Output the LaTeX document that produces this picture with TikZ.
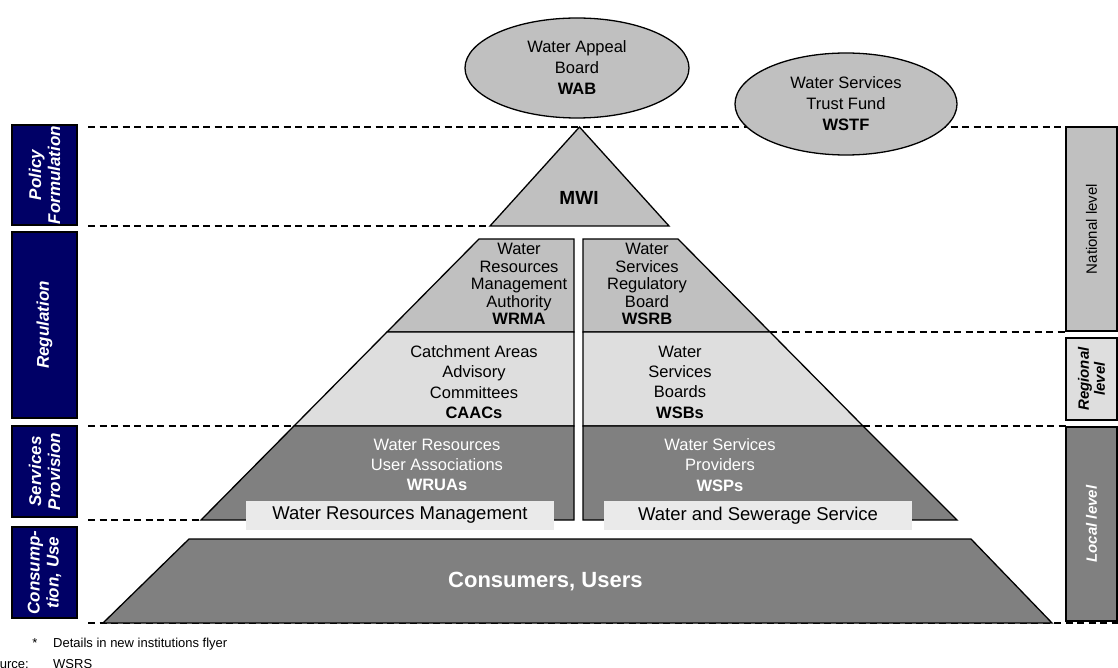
\documentclass[tikz,border=0pt]{standalone}
\usepackage{fontspec}
\setmainfont{Liberation Sans}
\usetikzlibrary{shapes.geometric}
\definecolor{navy}{RGB}{0,0,102}
\definecolor{gmid}{RGB}{192,192,192}
\definecolor{glight}{RGB}{222,222,222}
\definecolor{gdark}{RGB}{128,128,128}
\definecolor{glabel}{RGB}{234,234,234}
\begin{document}
\begin{tikzpicture}[x=1pt,y=-1pt,
  blk/.style={draw=black, line width=1.3pt, line join=miter},
  dline/.style={draw=black, line width=1.4pt, dash pattern=on 7pt off 4.5pt},
  body/.style={font=\fontsize{16.5}{20.3}\selectfont, align=center, inner sep=0pt},
  ell/.style={ellipse, draw=black, line width=1.3pt, fill=gmid, inner sep=0pt,
              font=\fontsize{16.5}{21}\selectfont, align=center},
  lbl/.style={fill=glabel, inner sep=0pt, minimum width=308pt, minimum height=29pt,
              font=\fontsize{18.5}{22}\selectfont},
  sidebox/.style={draw=black, line width=1.2pt, fill=navy, text=white, rotate=90,
              inner sep=0pt, minimum height=65pt, align=center,
              font=\bfseries\itshape\fontsize{17}{19}\selectfont},
  lvlbox/.style={draw=black, line width=1.2pt, rotate=90, inner sep=0pt,
              minimum height=51pt, align=center},
  foot/.style={font=\fontsize{13}{15}\selectfont, inner sep=0pt}
]
\useasboundingbox (0,0) rectangle (1118,668);

% dashed level lines
\draw[dline] (88,127) -- (1066,127);
\draw[dline] (88,226) -- (490,226);
\draw[dline] (770,332) -- (1066,332);
\draw[dline] (88,426) -- (294,426);
\draw[dline] (863,426) -- (1066,426);
\draw[dline] (88,520) -- (201,520);
\draw[dline] (88,623) -- (1118,623);

% ellipses
\node[ell, minimum width=224pt, minimum height=100pt] (wab) at (577,68)
  {Water Appeal\\Board\\\textbf{WAB}};
\node[ell, minimum width=222pt, minimum height=102pt] (wstf) at (846,104)
  {Water Services\\Trust Fund\\\textbf{WSTF}};

% MWI
\filldraw[blk, fill=gmid] (579.5,127) -- (669,226) -- (490,226) -- cycle;
\node[font=\bfseries\fontsize{19}{22}\selectfont, inner sep=0pt] (mwi) at (579,198) {MWI};

% left column
\filldraw[blk, fill=gmid]   (479,239) -- (574,239) -- (574,332) -- (387,332) -- cycle;
\filldraw[blk, fill=glight] (387,332) -- (574,332) -- (574,426) -- (294,426) -- cycle;
\filldraw[blk, fill=gdark]  (294,426) -- (574,426) -- (574,520) -- (201,520) -- cycle;
% right column
\filldraw[blk, fill=gmid]   (583,239) -- (678,239) -- (770,332) -- (583,332) -- cycle;
\filldraw[blk, fill=glight] (583,332) -- (770,332) -- (863,426) -- (583,426) -- cycle;
\filldraw[blk, fill=gdark]  (583,426) -- (863,426) -- (957,520) -- (583,520) -- cycle;
% consumers
\filldraw[blk, fill=gdark]  (189,539) -- (971,539) -- (1052,623) -- (103,623) -- cycle;

\node[body, font=\fontsize{16.5}{17.5}\selectfont] (wrma) at (519,284)
  {Water\\Resources\\Management\\Authority\\\textbf{WRMA}};
\node[body, font=\fontsize{16.5}{17.5}\selectfont] (wsrb) at (647,284)
  {Water\\Services\\Regulatory\\Board\\\textbf{WSRB}};
\node[body] (caac) at (474,382) {Catchment Areas\\Advisory\\Committees\\\textbf{CAACs}};
\node[body] (wsb) at (680,382) {Water\\Services\\Boards\\\textbf{WSBs}};
\node[body, text=white] (wrua) at (437,465) {Water Resources\\User Associations\\\textbf{WRUAs}};
\node[body, text=white] (wsp) at (720,465) {Water Services\\Providers\\\textbf{WSPs}};

\node[lbl] (wrm) at (400,515.5) {Water Resources Management};
\node[lbl] (wss) at (758,515.5) {Water and Sewerage Service};

\node[font=\bfseries\fontsize{22}{26}\selectfont, text=white, inner sep=0pt, anchor=west] (cons) at (448,582) {Consumers, Users};

% left side boxes
\node[sidebox, minimum width=100pt] (pol) at (44.5,175) {Policy\\Formulation};
\node[sidebox, minimum width=186pt] (reg) at (44.5,325) {Regulation};
\node[sidebox, minimum width=91pt]  (srv) at (44.5,471.5) {Services\\Provision};
\node[sidebox, minimum width=91pt]  (con) at (44.5,572.5) {Consump-\\tion, Use};

% right side level boxes
\node[lvlbox, fill=gmid, minimum width=204pt, font=\fontsize{15}{17}\selectfont] (nat) at (1091.5,229) {National level};
\node[lvlbox, fill=glight, minimum width=82pt, font=\bfseries\itshape\fontsize{15}{16}\selectfont] (regl) at (1091.5,379) {Regional\\level};
\node[lvlbox, fill=gdark, text=white, minimum width=194pt, font=\bfseries\itshape\fontsize{15}{17}\selectfont] (loc) at (1091.5,524) {Local level};

% footnote
\node[foot, anchor=center] (star) at (35,643) {*};
\node[foot, anchor=west] (det) at (53,644) {Details in new institutions flyer};
\node[foot, anchor=east] (src) at (29,664) {Source:};
\node[foot, anchor=west] (wsrs) at (53,664) {WSRS};
\end{tikzpicture}
\end{document}
